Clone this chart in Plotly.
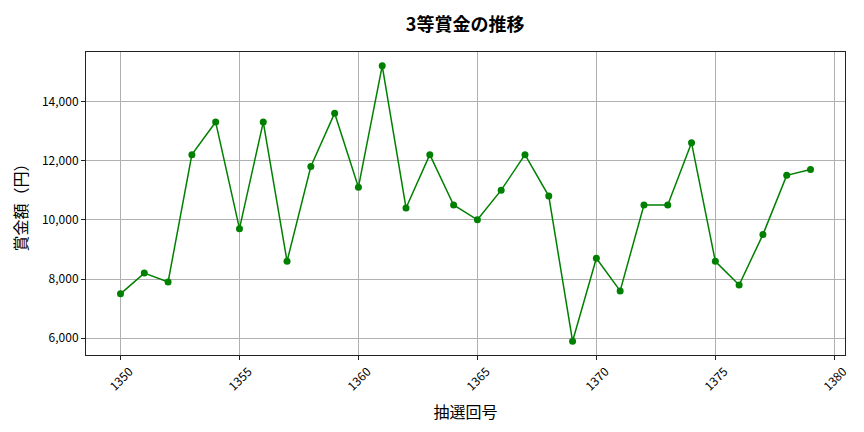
import plotly.graph_objects as go

# Draw numbers and third-prize amounts (yen)
draws  = list(range(1350, 1380))
prizes = [7500, 8200, 7900, 12200, 13300, 9700, 13300, 8600, 11800, 13600,
          11100, 15200, 10400, 12200, 10500, 10000, 11000, 12200, 10800, 5900,
          8700, 7600, 10500, 10500, 12600, 8600, 7800, 9500, 11500, 11700]

x_ticks  = [1350, 1355, 1360, 1365, 1370, 1375, 1380]
y_ticks  = [6000, 8000, 10000, 12000, 14000]

font_family = "Noto Sans CJK JP"

fig = go.Figure()
fig.add_trace( go.Scatter( x = draws, y = prizes,
                           mode = 'lines+markers',
                           line = dict( color = 'green', width = 1.5 ),
                           marker = dict( color = 'green', size = 7 ) ) )

pad_x = (max(draws) - min(draws)) * 0.05
pad_y = (max(prizes) - min(prizes)) * 0.05

axis_style = dict( showline = True, linecolor = '#222222', linewidth = 1, mirror = True,
                   showgrid = True, gridcolor = '#b0b0b0', gridwidth = 0.8,
                   ticks = 'outside', ticklen = 4, tickcolor = '#222222',
                   zeroline = False, automargin = False,
                   tickfont = dict( size = 12, color = '#000000' ) )

fig.update_xaxes( range = [min(draws) - pad_x, max(draws) + pad_x],
                  tickvals = x_ticks, tickangle = -45, ticklabelshift = 9,
                  title = dict( text = '抽選回号', font = dict( size = 16, color = '#000000' ), standoff = 14 ),
                  **axis_style )
fig.update_yaxes( range = [min(prizes) - pad_y, max(prizes) + pad_y],
                  tickvals = y_ticks, tickformat = ',',
                  title = dict( text = '賞金額（円）', font = dict( size = 16, color = '#000000' ), standoff = 12 ),
                  **axis_style )

# the page puts the figure 8px in from the top-left corner
fig.update_layout( width = 856, height = 424,
                   margin = dict( l = 78, r = 19, t = 44, b = 77 ),
                   paper_bgcolor = 'white', plot_bgcolor = 'white',
                   showlegend = False,
                   font = dict( family = font_family ),
                   title = dict( text = '<b>3等賞金の推移</b>', x = 0.534, xanchor = 'center',
                                 y = 0.96, yanchor = 'middle',
                                 font = dict( size = 18, color = '#000000', weight = 500 ) ) )

fig.write_html( "out.html" )
